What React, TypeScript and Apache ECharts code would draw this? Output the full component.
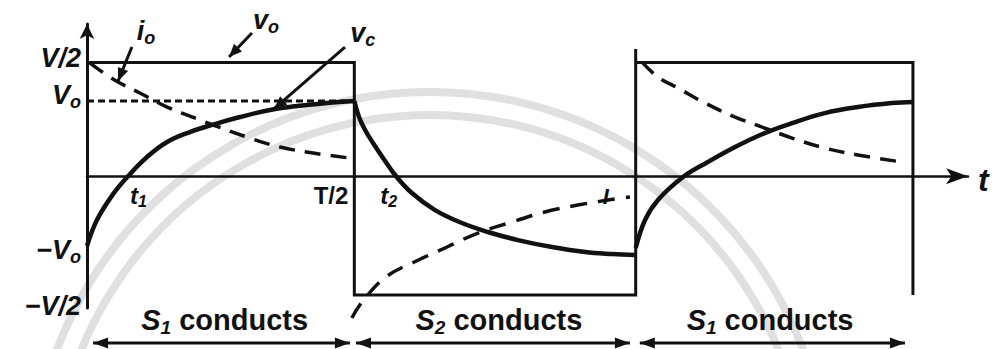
import React, { useEffect, useRef } from "react";
import * as echarts from "echarts";

// Time runs along x in half-period units (T/2 ≈ 0.971, T ≈ 1.993); voltages and
// currents on y are scaled so that V/2 = 1.
const halfPeriod = 0.971;
const period = 1.993;
const endTime = 3.0;
const topLevel = 1;
const bottomLevel = -1.045;
const vcPeak = 0.662;
const vcTrough = -0.68;

// Output voltage v_o: square wave between +V/2 and -V/2
const voWave: number[][] = [
  [0, topLevel],
  [halfPeriod, topLevel],
  [halfPeriod, bottomLevel],
  [period, bottomLevel],
  [period, 1.12],
  [period, topLevel],
  [endTime, topLevel],
  [endTime, bottomLevel],
];

// Reference level V_o during the first half cycle
const vcLevel: number[][] = [
  [0, vcPeak],
  [halfPeriod, vcPeak],
];

// Capacitor voltage v_c, one array per half cycle
const vcFirst: number[][] = [
  [0, -0.614], [0.036, -0.386], [0.094, -0.16], [0.149, 0], [0.218, 0.169],
  [0.291, 0.301], [0.374, 0.389], [0.458, 0.455], [0.556, 0.521], [0.665, 0.583],
  [0.763, 0.618], [0.872, 0.644], [0.971, 0.662],
];
const vcSecond: number[][] = [
  [0.971, 0.662], [0.988, 0.521], [1.01, 0.407], [1.039, 0.292], [1.082, 0.137],
  [1.122, 0.002], [1.18, -0.148], [1.264, -0.298], [1.362, -0.412], [1.456, -0.491],
  [1.565, -0.562], [1.689, -0.623], [1.809, -0.667], [1.907, -0.685], [1.99, -0.694],
];
const vcThird: number[][] = [
  [1.993, -0.632], [2.027, -0.385], [2.074, -0.209], [2.165, -0.007], [2.255, 0.125],
  [2.354, 0.257], [2.462, 0.38], [2.561, 0.468], [2.68, 0.556], [2.8, 0.609],
  [2.924, 0.644], [3.0, 0.653],
];

// Load current i_o, one array per half cycle
const ioFirst: number[][] = [
  [0.011, 0.996], [0.094, 0.856], [0.192, 0.732], [0.291, 0.609], [0.4, 0.504],
  [0.458, 0.451], [0.603, 0.327], [0.701, 0.257], [0.821, 0.204], [0.955, 0.16],
];
const ioSecond: number[][] = [
  [0.962, -1.248], [0.999, -1.107], [1.086, -0.887], [1.202, -0.74], [1.308, -0.623],
  [1.42, -0.5], [1.544, -0.403], [1.663, -0.315], [1.783, -0.254], [1.892, -0.21],
  [1.972, -0.183],
];
const ioThird: number[][] = [
  [2.016, 1.005], [2.074, 0.873], [2.147, 0.776], [2.245, 0.644], [2.354, 0.521],
  [2.462, 0.424], [2.561, 0.336], [2.68, 0.248], [2.8, 0.187], [2.96, 0.125],
];

// Level labels on the vertical axis ("_x" marks a subscript)
const levelLabels = ["V/2", "V_o", "−V_o", "−V/2"];
const levelValues = [topLevel, vcPeak, vcTrough, bottomLevel];

// Switch conduction intervals along the bottom
const conductLabels = ["S_1 conducts", "S_2 conducts", "S_1 conducts"];
const conductSpans: number[][] = [
  [0.022, 0.955],
  [0.977, 1.972],
  [2.008, 2.971],
];
const conductCenters = [0.5, 1.496, 2.481];

const INK = "#111";
const FONT = "'Liberation Sans', Arial, Helvetica, sans-serif";

function richify(label: string): string {
  const m = label.match(/^(.*?)_(\w)(.*)$/);
  if (!m) return `{m|${label}}`;
  return `{m|${m[1]}}{s|${m[2]}}` + (m[3] ? `{r|${m[3]}}` : "");
}

function richStyles(size: number, italicMain: boolean, italicRest = false) {
  const line = size + 4;
  const sub = Math.round(size * 0.66);
  return {
    m: {
      fontSize: size,
      fontFamily: FONT,
      fontWeight: "bold",
      fontStyle: italicMain ? "italic" : "normal",
      fill: INK,
      lineHeight: line,
    },
    s: {
      fontSize: sub,
      fontFamily: FONT,
      fontWeight: "bold",
      fontStyle: italicMain ? "italic" : "normal",
      fill: INK,
      lineHeight: Math.round(size * 0.5),
      verticalAlign: "bottom",
    },
    r: {
      fontSize: size,
      fontFamily: FONT,
      fontWeight: "bold",
      fontStyle: italicRest ? "italic" : "normal",
      fill: INK,
      lineHeight: line,
    },
  };
}

function textEl(
  label: string,
  x: number,
  y: number,
  size: number,
  align: string,
  italicMain = true,
  italicRest = false
) {
  return {
    type: "text",
    x,
    y,
    z: 100,
    silent: true,
    style: {
      text: richify(label),
      rich: richStyles(size, italicMain, italicRest),
      fill: INK,
      fontFamily: FONT,
      fontSize: size,
      fontWeight: "bold",
      align,
      verticalAlign: "middle",
    },
  };
}

function head(tip: number[], from: number[], len: number, width: number) {
  const dx = tip[0] - from[0];
  const dy = tip[1] - from[1];
  const d = Math.hypot(dx, dy) || 1;
  const ux = dx / d;
  const uy = dy / d;
  const bx = tip[0] - ux * len;
  const by = tip[1] - uy * len;
  return {
    type: "polygon",
    z: 90,
    silent: true,
    shape: {
      points: [
        [tip[0], tip[1]],
        [bx - uy * width * 0.5, by + ux * width * 0.5],
        [bx + uy * width * 0.5, by - ux * width * 0.5],
      ],
    },
    style: { fill: INK },
  };
}

function seg(a: number[], b: number[], w: number) {
  return {
    type: "line",
    z: 90,
    silent: true,
    shape: { x1: a[0], y1: a[1], x2: b[0], y2: b[1] },
    style: { stroke: INK, lineWidth: w },
  };
}

function buildGraphics(chart: echarts.ECharts) {
  const P = (x: number, y: number) =>
    chart.convertToPixel({ gridIndex: 0 }, [x, y]) as number[];
  const els: any[] = [];

  // faint background rings
  [399, 376].forEach((r) =>
    els.push({
      type: "circle",
      z: 0,
      silent: true,
      shape: { cx: 430, cy: 491, r },
      style: { fill: "none", stroke: "#e0e0e0", lineWidth: 8 },
    })
  );

  // level labels left of the vertical axis
  const levelShift = [-5, -6, -3, 11];
  levelLabels.forEach((lab, i) => {
    const p = P(0, levelValues[i]);
    els.push(textEl(lab, p[0] - 6, p[1] + levelShift[i], 27, "right", true));
  });

  // time marks under the t axis
  const t1 = P(0.149, 0);
  els.push(textEl("t_1", t1[0] + 2, t1[1] + 19, 24, "left", true));
  const th = P(halfPeriod, 0);
  els.push(textEl("T/2", th[0] - 6, th[1] + 19, 24, "right", false));
  els.push(textEl("t_2", th[0] + 26, th[1] + 19, 24, "left", true));
  const tI = P(period, 0);
  els.push(textEl("I", tI[0] - 30, tI[1] + 20, 22, "center", true));
  const tEnd = P(3.2, 0);
  els.push(textEl("t", tEnd[0] + 10, tEnd[1] + 4, 32, "left", true));

  // curve names with pointer arrows
  const names: { label: string; at: number[]; from: number[]; tip: number[] }[] = [
    { label: "i_o", at: [0.214, 1.278], from: [0.163, 1.137], tip: [0.113, 0.838] },
    { label: "v_o", at: [0.65, 1.375], from: [0.599, 1.261], tip: [0.516, 1.049] },
    { label: "v_c", at: [1.002, 1.26], from: [0.937, 1.137], tip: [0.679, 0.592] },
  ];
  names.forEach((n) => {
    const a = P(n.at[0], n.at[1]);
    els.push(textEl(n.label, a[0], a[1], 27, "center", true));
    const f = P(n.from[0], n.from[1]);
    const t = P(n.tip[0], n.tip[1]);
    els.push(seg(f, t, 3));
    els.push(head(t, f, 13, 11));
  });

  // conduction intervals with double-headed arrows
  const arrowY = -1.468;
  conductSpans.forEach((span, i) => {
    const a = P(span[0], arrowY);
    const b = P(span[1], arrowY);
    els.push(seg(a, b, 3));
    els.push(head(a, b, 15, 11));
    els.push(head(b, a, 15, 11));
    const c = P(conductCenters[i], -1.266);
    els.push(textEl(conductLabels[i], c[0], c[1], 29, "center", true, false));
  });

  return els;
}

function lineSeries(data: number[][], width: number, dash: number[] | "solid", smooth: boolean) {
  return {
    type: "line",
    data,
    showSymbol: false,
    symbol: "none",
    silent: true,
    smooth: smooth ? 0.4 : false,
    clip: false,
    z: 5,
    lineStyle: { color: INK, width, type: dash, cap: "butt", join: "miter" },
  };
}

export default function App() {
  const ref = useRef<HTMLDivElement>(null);

  useEffect(() => {
    if (!ref.current) return;
    const chart = echarts.init(ref.current, null, { renderer: "svg" });
    const option: any = {
      animation: false,
      backgroundColor: "#ffffff",
      grid: { left: 87, right: 26, top: 24, bottom: 41 },
      xAxis: {
        type: "value",
        min: 0,
        max: 3.2,
        axisLine: {
          show: true,
          onZero: true,
          symbol: ["none", "arrow"],
          symbolSize: [12, 22],
          lineStyle: { color: INK, width: 2.5 },
        },
        axisTick: { show: false },
        axisLabel: { show: false },
        splitLine: { show: false },
      },
      yAxis: {
        type: "value",
        min: -1.16,
        max: 1.34,
        axisLine: {
          show: true,
          onZero: true,
          symbol: ["none", "arrow"],
          symbolSize: [11, 15],
          lineStyle: { color: INK, width: 3 },
        },
        axisTick: { show: false },
        axisLabel: { show: false },
        splitLine: { show: false },
      },
      series: [
        lineSeries(voWave, 3, "solid", false),
        lineSeries(vcLevel, 3, [7, 4], false),
        lineSeries(vcFirst, 4.5, "solid", true),
        lineSeries(vcSecond, 4.5, "solid", true),
        lineSeries(vcThird, 4.5, "solid", true),
        lineSeries(ioFirst, 3.5, [16, 10], true),
        lineSeries(ioSecond, 3.5, [17, 11], true),
        lineSeries(ioThird, 3.5, [16, 10], true),
      ],
    };
    chart.setOption(option);
    chart.setOption({ graphic: { elements: buildGraphics(chart) } });
    return () => chart.dispose();
  }, []);

  return (
    <div
      ref={ref}
      style={{ position: "fixed", left: 0, top: 0, width: 994, height: 349, background: "#fff" }}
    />
  );
}
